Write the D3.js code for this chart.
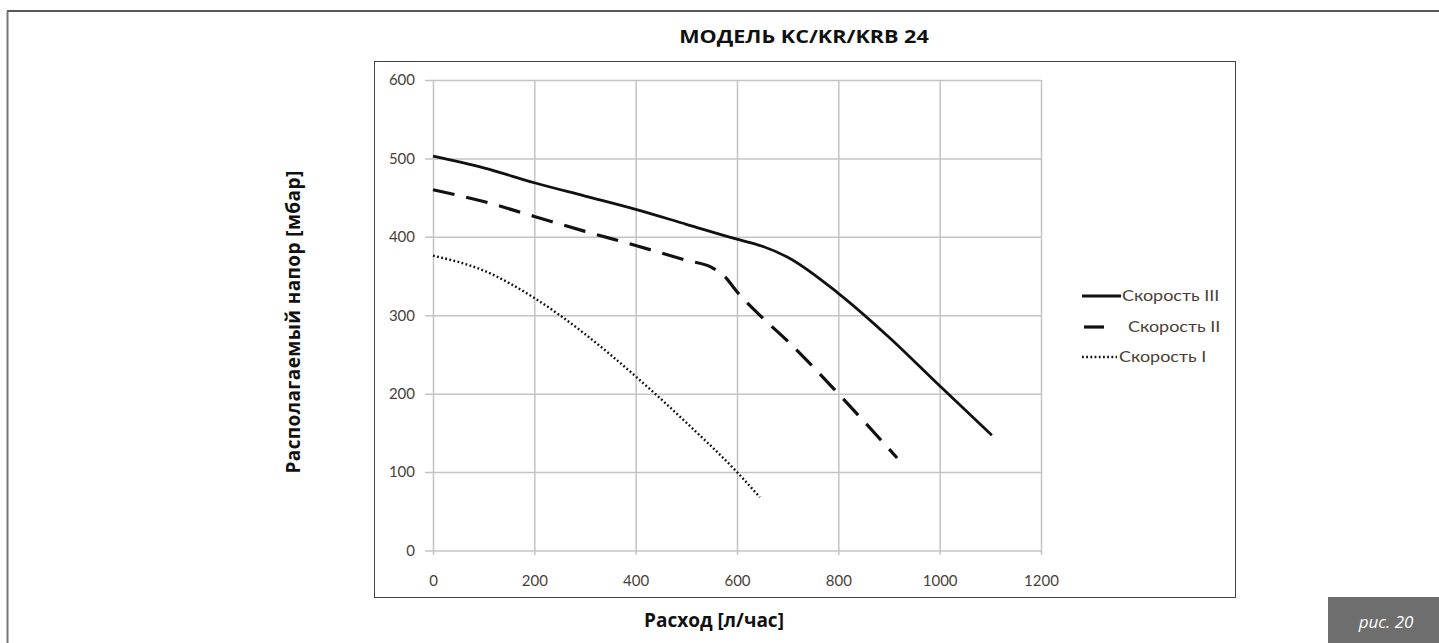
<!DOCTYPE html>
<html>
<head>
<meta charset="utf-8">
<script src="https://cdn.jsdelivr.net/npm/d3@7"></script>
<style>
  html, body { margin: 0; padding: 0; background: #fff; }
  svg { display: block; }
</style>
</head>
<body>
<svg id="chart" width="1439" height="643"></svg>
<script>
// ---- Data ----
const title = "МОДЕЛЬ KC/KR/KRB 24";
const xTitle = "Расход [л/час]";
const yTitle = "Располагаемый напор [мбар]";
const figLabel = "рис. 20";

const xTicks = [0, 200, 400, 600, 800, 1000, 1200];
const yTicks = [0, 100, 200, 300, 400, 500, 600];

const seriesNames = ["Скорость III", "Скорость II", "Скорость I"];

const speed3Flow = [0, 100, 200, 300, 400, 500, 600, 650, 700, 800, 900, 1000, 1103];
const speed3Head = [503, 488, 469, 452, 435, 416, 397, 388, 374, 328, 272, 210, 147];

const speed2Flow = [0, 100, 200, 300, 400, 500, 550, 575, 600, 650, 700, 800, 916];
const speed2Head = [460, 445, 426, 407, 389, 370, 361, 350, 330, 297, 267, 200, 118];

const speed1Flow = [0, 100, 200, 300, 400, 500, 600, 645];
const speed1Head = [376, 357, 322, 276, 222, 163, 100, 68];

// ---- Drawing ----
const svg = d3.select("#chart");

// outer frame
svg.append("line").attr("x1", 7).attr("x2", 1439).attr("y1", 11).attr("y2", 11)
  .attr("stroke", "#222").attr("stroke-width", 1.5);
svg.append("line").attr("x1", 7.5).attr("x2", 7.5).attr("y1", 11).attr("y2", 643)
  .attr("stroke", "#777").attr("stroke-width", 2);

// title
svg.append("g").attr("transform", "translate(804,43) scale(1.2,1)")
  .append("text").attr("text-anchor", "middle")
  .attr("font-family", "'Open Sans', sans-serif").attr("font-weight", "bold")
  .attr("font-size", 18).attr("fill", "#111").text(title);

// chart box
svg.append("rect").attr("x", 374.5).attr("y", 61.5).attr("width", 861).attr("height", 536)
  .attr("fill", "none").attr("stroke", "#444").attr("stroke-width", 1);

const x = d3.scaleLinear().domain([0, 1200]).range([433, 1041]);
const y = d3.scaleLinear().domain([0, 600]).range([550.5, 80]);

const tickFont = "Lato, 'Noto Sans', sans-serif";
const tickColor = "#4a3f36";
const gridColor = "#c4c4c4";

// y axis / horizontal grid
const yAxis = svg.append("g").attr("transform", "translate(425,0)")
  .call(d3.axisLeft(y).tickValues(yTicks).tickSize(-616).tickPadding(10).tickFormat(d3.format("d")));
yAxis.select(".domain").remove();
yAxis.selectAll("line").attr("stroke", gridColor).attr("stroke-width", 1.5);
yAxis.selectAll("text").attr("font-family", tickFont).attr("font-size", 15).attr("fill", tickColor);

// x axis / vertical grid
const xAxis = svg.append("g").attr("transform", "translate(0,555)")
  .call(d3.axisBottom(x).tickValues(xTicks).tickSize(-475).tickPadding(20).tickFormat(d3.format("d")));
xAxis.select(".domain").remove();
xAxis.selectAll("line").attr("stroke", gridColor).attr("stroke-width", 1.5);
xAxis.selectAll("text").attr("font-family", tickFont).attr("font-size", 15).attr("fill", tickColor);

// series
const line = d3.line().x(d => x(d[0])).y(d => y(d[1])).curve(d3.curveMonotoneX);
const zip = (a, b) => a.map((v, i) => [v, b[i]]);

const styles = [
  { dash: null, width: 2.8 },
  { dash: "22,12", width: 3.2 },
  { dash: "1.8,2.4", width: 2.4 }
];
const data = [zip(speed3Flow, speed3Head), zip(speed2Flow, speed2Head), zip(speed1Flow, speed1Head)];

data.forEach((d, i) => {
  const p = svg.append("path").datum(d).attr("d", line)
    .attr("fill", "none").attr("stroke", "#111")
    .attr("stroke-width", styles[i].width);
  if (styles[i].dash) p.attr("stroke-dasharray", styles[i].dash);
});

// legend
const legRows = [296, 327, 357];
const legLine = [[1082, 1121], [1084, 1104], [1082, 1117]];
const legTextX = [1122, 1128, 1119];
seriesNames.forEach((name, i) => {
  const l = svg.append("line").attr("x1", legLine[i][0]).attr("x2", legLine[i][1])
    .attr("y1", legRows[i]).attr("y2", legRows[i])
    .attr("stroke", "#111").attr("stroke-width", styles[i].width);
  if (i === 2) l.attr("stroke-dasharray", styles[2].dash);
  svg.append("g").attr("transform", `translate(${legTextX[i]},${legRows[i]}) scale(1.2,1)`)
    .append("text").attr("dy", "0.35em")
    .attr("font-family", tickFont).attr("font-size", 15).attr("fill", tickColor).text(name);
});

// axis titles
svg.append("text").attr("x", 714).attr("y", 627).attr("text-anchor", "middle")
  .attr("font-family", "'Open Sans', sans-serif").attr("font-weight", "bold")
  .attr("font-size", 19).attr("fill", "#111").text(xTitle);

svg.append("text").attr("transform", "translate(300,322) rotate(-90)")
  .attr("text-anchor", "middle")
  .attr("font-family", "'Open Sans', sans-serif").attr("font-weight", "bold")
  .attr("font-size", 19).attr("letter-spacing", 0.4).attr("fill", "#111").text(yTitle);

// figure label box
svg.append("rect").attr("x", 1328).attr("y", 597).attr("width", 111).attr("height", 46)
  .attr("fill", "#6e6e6e");
svg.append("text").attr("x", 1386).attr("y", 628).attr("text-anchor", "middle")
  .attr("font-family", "'Open Sans', sans-serif").attr("font-style", "italic")
  .attr("font-size", 17).attr("fill", "#fff").text(figLabel);
</script>
</body>
</html>
